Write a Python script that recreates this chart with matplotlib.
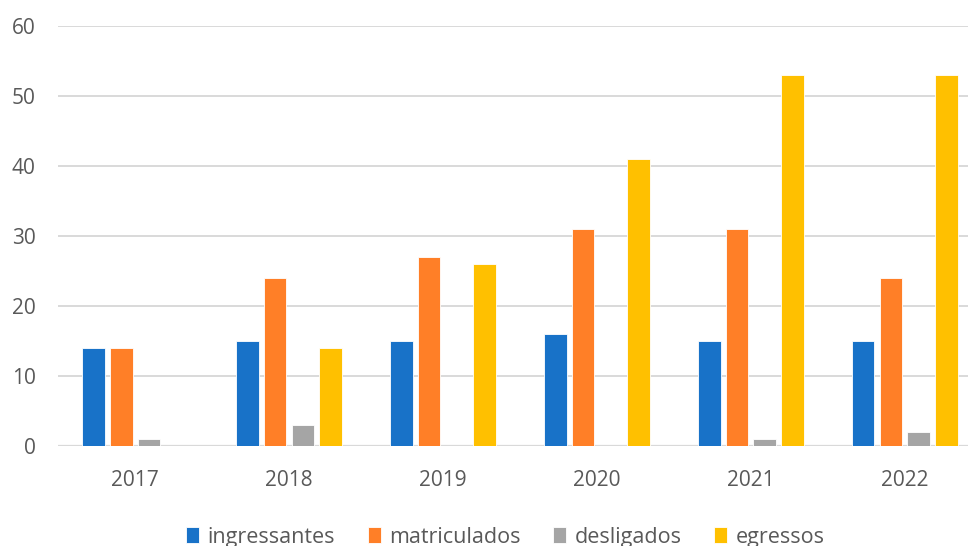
import numpy as np
import matplotlib
matplotlib.use('Agg')
import matplotlib.pyplot as plt

anos = ['2017', '2018', '2019', '2020', '2021', '2022']
ingressantes = [14, 15, 15, 16, 15, 15]
matriculados = [14, 24, 27, 31, 31, 24]
desligados = [1, 3, 0, 0, 1, 2]
egressos = [0, 14, 26, 41, 53, 53]

series = [
    ('ingressantes', ingressantes, '#1872C8'),
    ('matriculados', matriculados, '#FF7F27'),
    ('desligados', desligados, '#A5A5A5'),
    ('egressos', egressos, '#FFC000'),
]

plt.rcParams['font.family'] = ['Open Sans', 'DejaVu Sans']

fig = plt.figure(figsize=(9.68, 5.46), dpi=100)
ax = fig.add_axes([0.06, 0.183, 0.94, 0.769])

x = np.arange(len(anos))
step = 0.181
width = 0.148
for i, (nome, vals, cor) in enumerate(series):
    ax.bar(x + (i - 1.5) * step, vals, width, color=cor, label=nome,
           edgecolor='white', linewidth=0.6, zorder=3)

ax.set_ylim(0, 60)
ax.set_yticks(range(0, 61, 10))
ax.set_xlim(-0.5, 5.41)
ax.set_xticks(x)
ax.set_xticklabels(anos)

ax.grid(axis='y', color='#D9D9D9', linewidth=1.4, zorder=0)
for s in ax.spines.values():
    s.set_visible(False)
ax.axhline(0, color='#D9D9D9', linewidth=1.6, zorder=2)

ax.tick_params(axis='both', length=0, labelsize=15, labelcolor='#595959')
ax.tick_params(axis='y', pad=16)
ax.tick_params(axis='x', pad=17)

# legenda embaixo, em uma linha
leg = fig.legend(loc='center', bbox_to_anchor=(0.522, 0.016), ncol=4, frameon=False,
                 fontsize=15.5, handlelength=0.6, handleheight=0.75, handletextpad=0.4,
                 columnspacing=1.5, labelcolor='#595959')

fig.savefig('out.png', dpi=100, facecolor='white')
